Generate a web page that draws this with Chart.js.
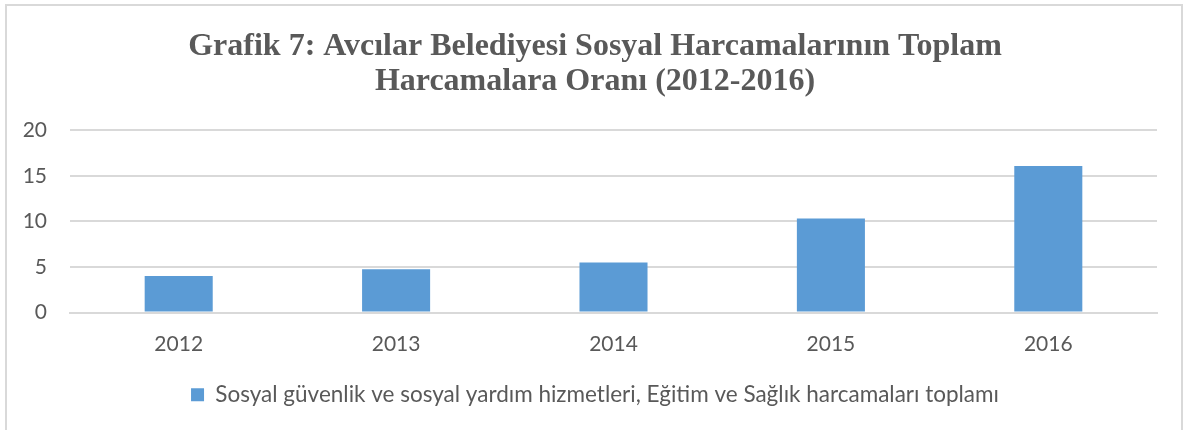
<!DOCTYPE html>
<html><head><meta charset="utf-8">
<script src="https://cdn.jsdelivr.net/npm/chart.js@4.4.1/dist/chart.umd.min.js"></script>
<style>
html,body{margin:0;padding:0;background:#fff;}
#frame{position:absolute;left:5px;top:4px;width:1178px;height:440px;border:2px solid #d9d9d9;box-sizing:border-box;}
#wrap{position:absolute;left:0;top:0;width:1190px;height:430px;}
</style></head>
<body>
<div id="frame"></div>
<div id="wrap"><canvas id="c" width="1190" height="430"></canvas></div>
<script>
const categories = ["2012","2013","2014","2015","2016"];
const values = [4.0, 4.75, 5.5, 10.33, 16.1];
const yTicks = [0,5,10,15,20];
const seriesLabel = "Sosyal güvenlik ve sosyal yardım hizmetleri, Eğitim ve Sağlık harcamaları toplamı";
const titleLines = ["Grafik 7: Avcılar Belediyesi Sosyal Harcamalarının Toplam","Harcamalara Oranı (2012-2016)"];

const FONT = 'Lato, "Open Sans", sans-serif';
new Chart(document.getElementById('c'), {
  type: 'bar',
  data: {labels: categories, datasets: [{label: seriesLabel, data: values, backgroundColor: '#5b9bd5', borderWidth: 0, barPercentage: 1, categoryPercentage: 0.313}]},
  options: {
    responsive: false, animation: false,
    layout: {padding: {left: 0, right: 0, top: 10, bottom: 14}},
    plugins: {
      title: {display: true, text: titleLines, color: '#595959', font: {family: '"Liberation Serif", "Times New Roman", serif', size: 32, weight: 'bold', lineHeight: 1.1}, padding: {top: 19, bottom: 31}},
      legend: {position: 'bottom', labels: {color: '#595959', font: {family: FONT, size: 22.5}, boxWidth: 13, boxHeight: 13, padding: 10}},
      tooltip: {enabled: false}
    },
    scales: {
      x: {afterFit: s => { s.height = 61; }, grid: {display: false, drawTicks: false}, border: {display: true, color: '#d9d9d9', width: 2}, ticks: {color: '#595959', font: {family: FONT, size: 21}, padding: 19}},
      y: {min: 0, max: 20, afterFit: s => { s.width = 70; }, afterBuildTicks: s => { s.ticks = yTicks.map(v => ({value: v})); },
          grid: {color: '#d9d9d9', lineWidth: 2, drawTicks: false}, border: {display: false},
          ticks: {color: '#595959', font: {family: FONT, size: 21}, padding: 23}},
      yRight: {position: 'right', min: 0, max: 20, afterFit: s => { s.width = 33; }, grid: {display: false, drawTicks: false}, border: {display: false}, ticks: {display: false}}
    }
  }
});
</script>
</body></html>
